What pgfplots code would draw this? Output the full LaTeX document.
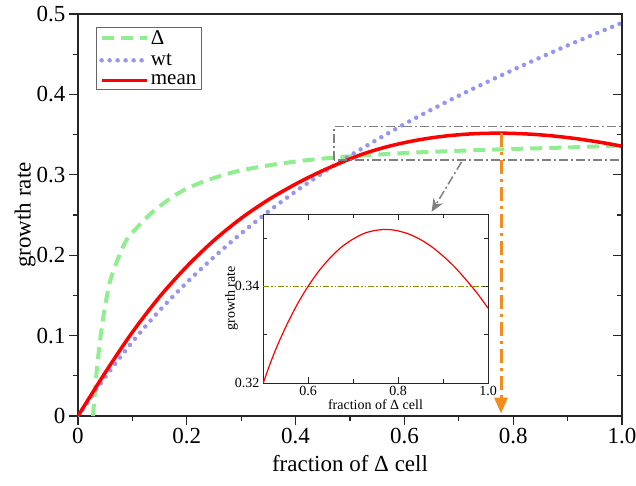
\documentclass[border=0pt]{standalone}
\usepackage{fontspec}
\setmainfont{Liberation Serif}
\usepackage{pgfplots}
\usepackage{pgfplotstable}
\pgfplotsset{compat=1.18}
\usetikzlibrary{arrows.meta}
\definecolor{lgreen}{RGB}{144,238,144}
\definecolor{lblue}{RGB}{150,150,238}
\definecolor{myorange}{RGB}{242,140,30}
\definecolor{myolive}{RGB}{140,140,0}

\pgfplotstableread{
x y
0 0
0.05 0.054
0.1 0.1043
0.15 0.1483
0.2 0.1860
0.25 0.2185
0.3 0.2460
0.35 0.2690
0.4 0.2885
0.45 0.3053
0.5 0.3198
0.525 0.3262
0.55 0.3315
0.575 0.3361
0.6 0.3400
0.625 0.3433
0.65 0.3460
0.675 0.3482
0.7 0.3498
0.725 0.3510
0.75 0.3516
0.775 0.3518
0.8 0.3515
0.825 0.3508
0.85 0.3497
0.875 0.3482
0.9 0.3463
0.925 0.3441
0.95 0.3415
0.975 0.3387
1.0 0.3355
}\meandata

\pgfplotstableread{
x y
0.0276 0
0.035 0.060
0.043 0.107
0.052 0.145
0.0613 0.173
0.0858 0.215
0.110 0.2355
0.141 0.256
0.184 0.277
0.230 0.2914
0.29 0.304
0.353 0.312
0.414 0.3176
0.4755 0.3217
0.537 0.3246
0.629 0.328
0.779 0.3317
0.9 0.334
1.0 0.3365
}\deltadata

\pgfplotstableread{
x y
0 0
0.05 0.0483
0.1 0.0923
0.15 0.1313
0.2 0.1660
0.25 0.1978
0.3 0.2271
0.35 0.2543
0.4 0.2793
0.45 0.3024
0.5 0.3239
0.6 0.3631
0.7 0.3984
0.8 0.4306
0.9 0.4609
1.0 0.4890
}\wtdata

\begin{document}
\begin{tikzpicture}
\begin{axis}[
  at={(0,0)}, anchor=south west,
  width=544pt, height=402pt, scale only axis,
  xmin=0, xmax=1, ymin=0, ymax=0.5,
  xtick={0,0.2,0.4,0.6,0.8,1.0}, xticklabels={0,0.2,0.4,0.6,0.8,1.0},
  ytick={0,0.1,0.2,0.3,0.4,0.5}, yticklabels={0,0.1,0.2,0.3,0.4,0.5},
  minor x tick num=1, minor y tick num=1,
  xtick pos=left, ytick pos=left, tick align=outside,
  major tick length=9pt, minor tick length=5pt,
  axis line style={line width=1.2pt, black!85},
  every tick/.style={line width=1.2pt, black!85},
  /pgf/number format/assume math mode=true,
  tick label style={font=\fontsize{23}{27}\selectfont},
  label style={font=\fontsize{23}{27}\selectfont},
  xlabel={fraction of Δ cell},
  ylabel={growth rate},
  xlabel style={at={(axis description cs:0.5,-0.117)}, anchor=center},
  ylabel style={at={(axis description cs:-0.097,0.5)}, anchor=center},
  legend style={at={(axis description cs:0.033,0.968)}, anchor=north west,
    draw=black!60, line width=0.8pt, font=\fontsize{21}{23}\selectfont,
    inner xsep=3pt, inner ysep=1pt, row sep=4pt},
  legend cell align=left,
  legend image code/.code={\draw[#1] (0pt,0pt) -- (45pt,0pt);},
]
\addplot[lgreen, line width=4pt, dash pattern=on 12pt off 7pt, smooth] table {\deltadata};
\addlegendentry{Δ}
\addplot[lblue, line width=4.5pt, line cap=round, dash pattern=on 0pt off 8pt, smooth] table {\wtdata};
\addlegendentry{wt}
\addplot[red, line width=3.5pt, smooth] table {\meandata};
\addlegendentry{mean}

\draw[gray, line width=1.5pt, dash pattern=on 9pt off 3pt on 2pt off 3pt]
  (axis cs:0.471,0.3184) rectangle (axis cs:1.0,0.3598);
\draw[gray, line width=1.5pt, dash pattern=on 9pt off 3pt on 2pt off 3pt,
  -{Stealth[length=13pt,width=11pt]}]
  (axis cs:0.705,0.316) -- (axis cs:0.650,0.254);
\addplot[myorange, line width=3pt, dash pattern=on 14pt off 5pt on 3pt off 5pt,
  -{Triangle[length=16pt,width=13pt]}, forget plot]
  coordinates {(0.7776,0.352) (0.7776,0.003)};
\end{axis}

\begin{axis}[
  at={(0,0)}, anchor=south west,
  width=544pt, height=402pt, scale only axis,
  xmin=0, xmax=1, ymin=0, ymax=0.5,
  hide x axis, axis y line*=right,
  ytick={0,0.1,0.2,0.3,0.4,0.5}, yticklabels={}, minor y tick num=1,
  tick align=inside, major tick length=9pt, minor tick length=5pt,
  axis line style={line width=1.2pt, black!85},
  every tick/.style={line width=1.2pt, black!85},
]
\end{axis}

\begin{axis}[
  at={(185pt,33pt)}, anchor=south west,
  width=225pt, height=169pt, scale only axis,
  xmin=0.5, xmax=1.0, ymin=0.32, ymax=0.355,
  xtick={0.6,0.8,1.0}, xticklabels={0.6,0.8,1.0},
  minor xtick={0.7,0.9},
  ytick={0.32,0.34}, yticklabels={0.32,0.34},
  minor ytick={0.33,0.35},
  tick align=inside, major tick length=6pt, minor tick length=4pt,
  axis background/.style={fill=white},
  axis line style={line width=0.9pt, black!85},
  every tick/.style={line width=0.9pt, black!85},
  tick label style={font=\fontsize{14}{16}\selectfont},
  label style={font=\fontsize{14}{16}\selectfont},
  xlabel={fraction of Δ cell},
  ylabel={growth rate},
  xlabel style={at={(axis description cs:0.5,-0.13)}, anchor=center},
  ylabel style={at={(axis description cs:-0.14,0.5)}, anchor=center},
]
\addplot[myolive, line width=1pt, dash pattern=on 6pt off 2pt on 1.5pt off 2pt on 1.5pt off 2pt]
  coordinates {(0.5,0.34) (1.0,0.34)};
\addplot[red, line width=1.2pt, smooth] table {\meandata};
\end{axis}

\pgfresetboundingbox
\path[use as bounding box] (-78pt,-69pt) rectangle (558pt,416pt);
\end{tikzpicture}
\end{document}
